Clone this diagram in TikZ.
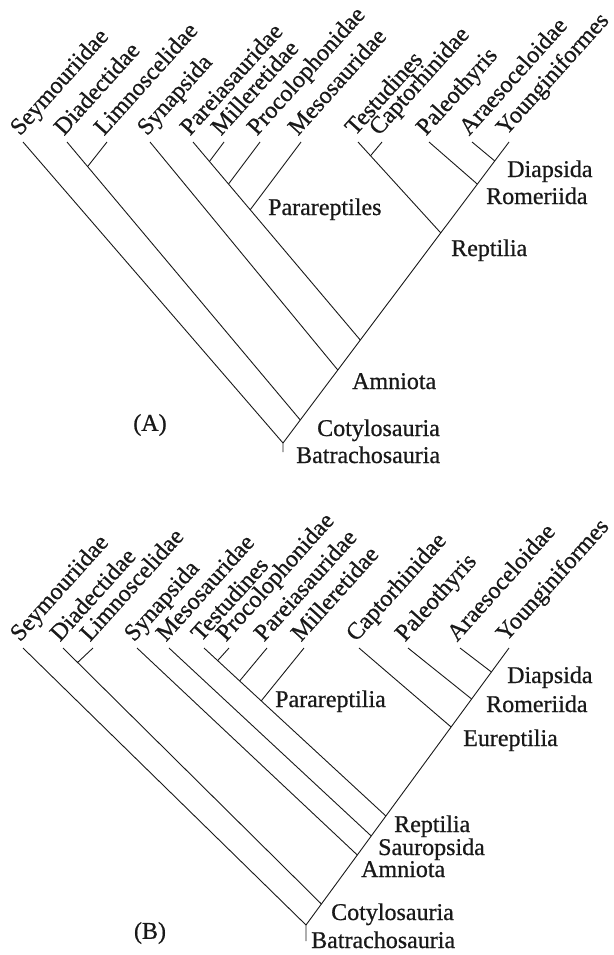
\documentclass[tikz,border=0pt]{standalone}
\usepackage{fontspec}
\setmainfont[FakeBold=0.7]{Liberation Serif}
\usetikzlibrary{calc}
\begin{document}
\begin{tikzpicture}[x=1pt,y=-1pt,
  br/.style={line width=0.9pt, draw=black!90},
  lab/.style={font=\fontsize{24}{29}\selectfont, inner sep=0pt, anchor=base west, text=black!90},
  taxon/.style={lab, rotate=48},
  panel/.style={font=\fontsize{24}{29}\selectfont, inner sep=0pt, anchor=center, text=black!90}]
\useasboundingbox (0,0) rectangle (613,955);
% ================= Tree A =================
\coordinate (RA) at (283,443);
\coordinate (RAs) at (283,452);
\coordinate (A1) at (23,142);
\coordinate (A2) at (67,142);
\coordinate (A3) at (107,142);
\coordinate (A4) at (150,142);
\coordinate (A5) at (193,142);
\coordinate (A6) at (224,142);
\coordinate (A7) at (260,142);
\coordinate (A8) at (301,142);
\coordinate (A9) at (358,142);
\coordinate (A10) at (382,142);
\coordinate (A11) at (429,142);
\coordinate (A12) at (472,142);
\coordinate (A13) at (509,142);
\coordinate (CotA) at ($(RA)!0.0764!(A13)$);
\coordinate (AmnA) at ($(RA)!0.2425!(A13)$);
\coordinate (ParA) at ($(RA)!0.342!(A13)$);
\coordinate (RepA) at ($(RA)!0.698!(A13)$);
\coordinate (RomA) at ($(RA)!0.860!(A13)$);
\coordinate (DiaA) at ($(RA)!0.937!(A13)$);
\coordinate (fA3) at ($(A3)+(-30,38)$);
\coordinate (fA6) at ($(A6)+(-30,40)$);
\coordinate (fA7) at ($(A7)+(-30,40)$);
\coordinate (fA8) at ($(A8)+(-30,40)$);
\coordinate (fA10) at ($(A10)+(-30,36)$);
\coordinate (jA3) at (intersection of A2--CotA and A3--fA3);
\coordinate (jA6) at (intersection of A5--ParA and A6--fA6);
\coordinate (jA7) at (intersection of A5--ParA and A7--fA7);
\coordinate (jA8) at (intersection of A5--ParA and A8--fA8);
\coordinate (jA10) at (intersection of A9--RepA and A10--fA10);
\draw[br] (RAs) -- (RA) -- (A13);
\draw[br] (A1) -- (RA);
\draw[br] (A2) -- (CotA);
\draw[br] (A3) -- (jA3);
\draw[br] (A4) -- (AmnA);
\draw[br] (A5) -- (ParA);
\draw[br] (A6) -- (jA6);
\draw[br] (A7) -- (jA7);
\draw[br] (A8) -- (jA8);
\draw[br] (A9) -- (RepA);
\draw[br] (A10) -- (jA10);
\draw[br] (A11) -- (RomA);
\draw[br] (A12) -- (DiaA);
\node[taxon] (tA1) at ($(A1)+(-3,-5.5)$) {Seymouriidae};
\node[taxon] (tA2) at ($(A2)+(-3,-5.5)$) {Diadectidae};
\node[taxon] (tA3) at ($(A3)+(-3,-5.5)$) {Limnoscelidae};
\node[taxon] (tA4) at ($(A4)+(-3,-5.5)$) {Synapsida};
\node[taxon] (tA5) at ($(A5)+(-3,-5.5)$) {Pareiasauridae};
\node[taxon] (tA6) at ($(A6)+(-3,-5.5)$) {Milleretidae};
\node[taxon] (tA7) at ($(A7)+(-3,-5.5)$) {Procolophonidae};
\node[taxon] (tA8) at ($(A8)+(-3,-5.5)$) {Mesosauridae};
\node[taxon] (tA9) at ($(A9)+(-3,-5.5)$) {Testudines};
\node[taxon] (tA10) at ($(A10)+(-3,-5.5)$) {Captorhinidae};
\node[taxon] (tA11) at ($(A11)+(-3,-5.5)$) {Paleothyris};
\node[taxon] (tA12) at ($(A12)+(-3,-5.5)$) {Araesoceloidae};
\node[taxon] (tA13) at ($(A13)+(-3,-5.5)$) {Younginiformes};
\node[lab] (cA1) at (507,177) {Diapsida};
\node[lab] (cA2) at (486,204) {Romeriida};
\node[lab] (cA3) at (268,215) {Parareptiles};
\node[lab] (cA4) at (451,256) {Reptilia};
\node[lab] (cA5) at (352,389) {Amniota};
\node[lab] (cA6) at (317,436) {Cotylosauria};
\node[lab] (cA7) at (296,463) {Batrachosauria};
\node[panel] (pA) at (150,425) {(A)};
% ================= Tree B =================
\coordinate (RB) at (306,925);
\coordinate (RBs) at (306,941);
\coordinate (B1) at (23,648);
\coordinate (B2) at (63,648);
\coordinate (B3) at (93,648);
\coordinate (B4) at (137,648);
\coordinate (B5) at (169,648);
\coordinate (B6) at (204,648);
\coordinate (B7) at (229,648);
\coordinate (B8) at (267,648);
\coordinate (B9) at (304,648);
\coordinate (B10) at (359,648);
\coordinate (B11) at (408,648);
\coordinate (B12) at (460,648);
\coordinate (B13) at (509,648);
\coordinate (CotB) at ($(RB)!0.0758!(B13)$);
\coordinate (AmnB) at ($(RB)!0.2527!(B13)$);
\coordinate (SauB) at ($(RB)!0.3213!(B13)$);
\coordinate (RepB) at ($(RB)!0.3935!(B13)$);
\coordinate (EurB) at ($(RB)!0.7148!(B13)$);
\coordinate (RomB) at ($(RB)!0.8159!(B13)$);
\coordinate (DiaB) at ($(RB)!0.9134!(B13)$);
\coordinate (fB3) at ($(B3)+(-30,28)$);
\coordinate (fB7) at ($(B7)+(-30,33)$);
\coordinate (fB8) at ($(B8)+(-30,36)$);
\coordinate (fB9) at ($(B9)+(-30,37)$);
\coordinate (jB3) at (intersection of B2--CotB and B3--fB3);
\coordinate (jB7) at (intersection of B6--RepB and B7--fB7);
\coordinate (jB8) at (intersection of B6--RepB and B8--fB8);
\coordinate (jB9) at (intersection of B6--RepB and B9--fB9);
\draw[br] (RBs) -- (RB) -- (B13);
\draw[br] (B1) -- (RB);
\draw[br] (B2) -- (CotB);
\draw[br] (B3) -- (jB3);
\draw[br] (B4) -- (AmnB);
\draw[br] (B5) -- (SauB);
\draw[br] (B6) -- (RepB);
\draw[br] (B7) -- (jB7);
\draw[br] (B8) -- (jB8);
\draw[br] (B9) -- (jB9);
\draw[br] (B10) -- (EurB);
\draw[br] (B11) -- (RomB);
\draw[br] (B12) -- (DiaB);
\node[taxon] (tB1) at ($(B1)+(-3,-5.5)$) {Seymouriidae};
\node[taxon] (tB2) at ($(B2)+(-3,-5.5)$) {Diadectidae};
\node[taxon] (tB3) at ($(B3)+(-3,-5.5)$) {Limnoscelidae};
\node[taxon] (tB4) at ($(B4)+(-3,-5.5)$) {Synapsida};
\node[taxon] (tB5) at ($(B5)+(-3,-5.5)$) {Mesosauridae};
\node[taxon] (tB6) at ($(B6)+(-3,-5.5)$) {Testudines};
\node[taxon] (tB7) at ($(B7)+(-3,-5.5)$) {Procolophonidae};
\node[taxon] (tB8) at ($(B8)+(-3,-5.5)$) {Pareiasauridae};
\node[taxon] (tB9) at ($(B9)+(-3,-5.5)$) {Milleretidae};
\node[taxon] (tB10) at ($(B10)+(-3,-5.5)$) {Captorhinidae};
\node[taxon] (tB11) at ($(B11)+(-3,-5.5)$) {Paleothyris};
\node[taxon] (tB12) at ($(B12)+(-3,-5.5)$) {Araesoceloidae};
\node[taxon] (tB13) at ($(B13)+(-3,-5.5)$) {Younginiformes};
\node[lab] (cB1) at (507,683) {Diapsida};
\node[lab] (cB2) at (486,712) {Romeriida};
\node[lab] (cB3) at (463,746) {Eureptilia};
\node[lab] (cB4) at (275,707) {Parareptilia};
\node[lab] (cB5) at (394,832) {Reptilia};
\node[lab] (cB6) at (378,855) {Sauropsida};
\node[lab] (cB7) at (361,877) {Amniota};
\node[lab] (cB8) at (331,920) {Cotylosauria};
\node[lab] (cB9) at (311,948) {Batrachosauria};
\node[panel] (pB) at (150,933) {(B)};
\end{tikzpicture}
\end{document}
